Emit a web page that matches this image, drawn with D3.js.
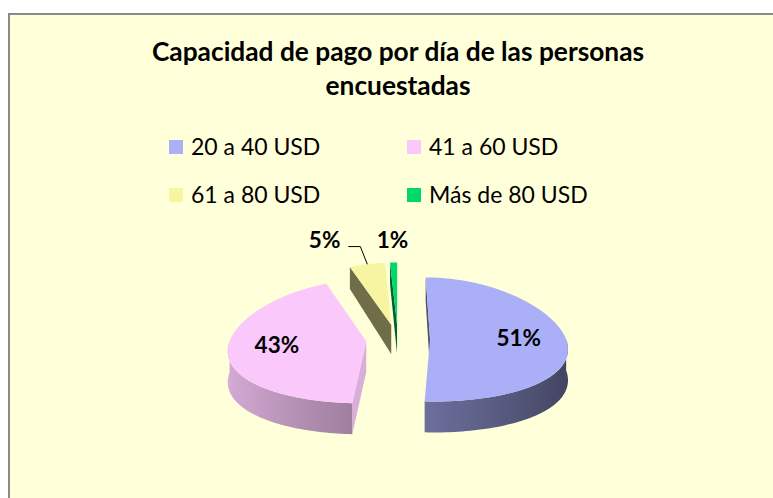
<!DOCTYPE html>
<html>
<head>
<meta charset="utf-8">
<script src="https://cdn.jsdelivr.net/npm/d3@7"></script>
<style>
body { margin: 0; background: #fff; }
svg { display: block; font-family: Lato, "Open Sans", sans-serif; }
</style>
</head>
<body>
<script>
// data
const categories = ["20 a 40 USD", "41 a 60 USD", "61 a 80 USD", "Más de 80 USD"];
const values = [51, 43, 5, 1];
const labels = ["51%", "43%", "5%", "1%"];
const colors = ["#abaff8", "#fac8fa", "#f8f5a2", "#00d86a"];
const titleLines = ["Capacidad de pago por día de las personas", "encuestadas"];

const width = 773, height = 498;
const cx = 398, cy = 339;      // pie centre on screen
const R = 136;                 // horizontal radius
const sy = 0.456;              // vertical squash of the pie plane
const depth = 31;              // thickness of the pie
const explode = 32;
const persp = 0.135;           // narrowing toward the back

const svg = d3.select("body").append("svg")
  .attr("width", width)
  .attr("height", height);

const defs = svg.append("defs");

svg.append("rect")
  .attr("x", 9).attr("y", 14)
  .attr("width", width).attr("height", height)
  .attr("fill", "#ffffda")
  .attr("stroke", "#8a8a8a")
  .attr("stroke-width", 2);

// title
svg.append("text")
  .attr("x", cx)
  .attr("text-anchor", "middle")
  .attr("font-weight", "bold")
  .attr("font-size", 26.3)
  .attr("fill", "#000")
  .selectAll("tspan")
  .data(titleLines)
  .enter()
  .append("tspan")
  .attr("x", cx)
  .attr("y", (d, i) => 61 + i * 34)
  .text(d => d);

// legend
const color = d3.scaleOrdinal().domain(categories).range(colors);
const legend = svg.append("g");
const legItem = legend.selectAll("g")
  .data(categories)
  .enter()
  .append("g")
  .attr("transform", (d, i) => `translate(${169 + (i % 2) * 238}, ${140 + Math.floor(i / 2) * 48})`);
legItem.append("rect")
  .attr("width", 14).attr("height", 14)
  .attr("fill", d => color(d));
legItem.append("text")
  .attr("x", 22).attr("y", 14.5)
  .attr("font-size", 23)
  .attr("fill", "#000")
  .text(d => d);

// pie geometry
const pie = d3.pie().sort(null).startAngle(0).endAngle(2 * Math.PI);
const arcs = pie(values);

// world: X right, Y toward the back, drop = distance below the top face
const project = (X, Y, drop) => {
  const k = 1 - persp * Y / R;
  const kd = Math.min(1, 1 - 0.25 * Y / R);
  return [cx + X * k, cy - Y * sy + drop * kd];
};

const shade = (c, m) => {
  const r = d3.rgb(c);
  return d3.rgb(r.r * m, r.g * m, r.b * m).formatHex();
};

const line = d3.line();

arcs.forEach((a, i) => {
  const mid = (a.startAngle + a.endAngle) / 2;
  a.ox = explode * Math.sin(mid);
  a.oy = explode * Math.cos(mid);
  a.pt = (ang, r, drop) => project(a.ox + r * Math.sin(ang), a.oy + r * Math.cos(ang), drop);
  a.mid = mid;
  a.index = i;
});

// back slices first
const order = arcs.slice().sort((p, q) => q.oy - p.oy);

const steps = 60;
order.forEach(a => {
  const g = svg.append("g");
  const base = colors[a.index];
  const angs = d3.range(steps + 1).map(s => a.startAngle + (a.endAngle - a.startAngle) * s / steps);

  // radial cut faces, only those turned to the viewer
  const walls = [
    { ang: a.startAngle, normal: a.startAngle - Math.PI / 2, sign: 1 },
    { ang: a.endAngle, normal: a.endAngle + Math.PI / 2, sign: -1 }
  ];
  walls.forEach(w => {
    const quad = [a.pt(w.ang, 0, 0), a.pt(w.ang, R, 0), a.pt(w.ang, R, depth), a.pt(w.ang, 0, depth)];
    const area = d3.polygonArea(quad);
    if (area * w.sign > 0) {
      g.append("path")
        .attr("d", line(quad) + "Z")
        .attr("fill", shade(base, Math.sin(w.normal) > 0 ? 0.87 : 0.45));
    }
  });

  // outer wall, front half only
  const lo = Math.max(a.startAngle, Math.PI / 2);
  const hi = Math.min(a.endAngle, 3 * Math.PI / 2);
  if (hi > lo) {
    const wa = d3.range(steps + 1).map(s => lo + (hi - lo) * s / steps);
    const topPts = wa.map(t => a.pt(t, R, 0));
    const botPts = wa.map(t => a.pt(t, R, depth)).reverse();
    const x1 = topPts[0][0], x2 = topPts[topPts.length - 1][0];
    const gid = "wall" + a.index;
    const grad = defs.append("linearGradient")
      .attr("id", gid)
      .attr("gradientUnits", "userSpaceOnUse")
      .attr("x1", x1).attr("x2", x2).attr("y1", 0).attr("y2", 0);
    d3.range(0, steps + 1, 6).forEach(s => {
      const t = wa[s];
      grad.append("stop")
        .attr("offset", (topPts[s][0] - x1) / (x2 - x1))
        .attr("stop-color", shade(base, 0.62 - 0.24 * Math.sin(t)));
    });
    g.append("path")
      .attr("d", line(topPts.concat(botPts)) + "Z")
      .attr("fill", `url(#${gid})`);
  }

  // top face
  const topFace = [a.pt(0, 0, 0)].concat(angs.map(t => a.pt(t, R, 0)));
  g.append("path")
    .attr("d", line(topFace) + "Z")
    .attr("fill", base);
});

// data labels
const labelG = svg.append("g")
  .attr("font-weight", "bold")
  .attr("font-size", 22.5)
  .attr("fill", "#000");

let prevLeft = Infinity;
arcs.slice().reverse().forEach(a => {
  if (a.value >= 10) {
    const p = a.pt(a.mid, 0.65 * R, 0);
    labelG.append("text")
      .attr("x", p[0]).attr("y", p[1] + 5)
      .attr("text-anchor", "middle")
      .text(labels[a.index]);
  } else {
    const inner = a.pt(a.mid, 0, 0);
    const outer = a.pt(a.mid, R, 0);
    const len = Math.hypot(outer[0] - inner[0], outer[1] - inner[1]);
    const elbow = [outer[0] + 19 * (outer[0] - inner[0]) / len, outer[1] + 19 * (outer[1] - inner[1]) / len];
    const t = labelG.append("text")
      .attr("x", elbow[0]).attr("y", 248)
      .attr("text-anchor", "middle")
      .text(labels[a.index]);
    const w = t.node().getComputedTextLength();
    if (elbow[0] + w / 2 > prevLeft - 4) {
      const end = elbow[0] - 12;
      t.attr("x", end - 8).attr("text-anchor", "end");
      svg.append("path")
        .attr("d", line([outer, elbow, [end, elbow[1]]]))
        .attr("fill", "none")
        .attr("stroke", "#000")
        .attr("stroke-width", 1);
      prevLeft = end - 8 - w;
    } else {
      prevLeft = elbow[0] - w / 2;
    }
  }
});
</script>
</body>
</html>
